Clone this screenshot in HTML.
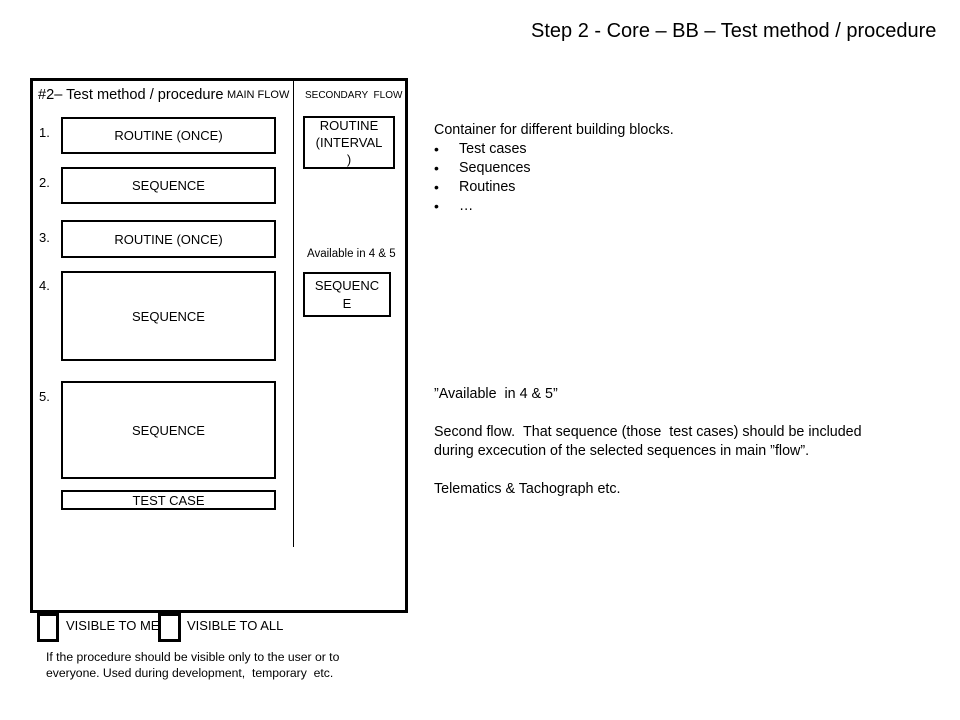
<!DOCTYPE html><html><head><style>
body{margin:0;width:960px;height:720px;background:#fff;position:relative;font-family:"Liberation Sans",sans-serif;color:#000;overflow:hidden}
.a{position:absolute}
.b{position:absolute;border:2px solid #000;box-sizing:border-box;display:flex;align-items:center;justify-content:center;text-align:center;font-size:13px}
.t{position:absolute;font-size:13px;white-space:nowrap}
</style></head><body>
<div class="t" style="left:531px;top:20px;font-size:20px">Step 2 - Core – BB – Test method / procedure</div>
<div class="a" style="left:30px;top:78px;width:378px;height:535px;border:3px solid #000;box-sizing:border-box"></div>
<div class="a" style="left:293px;top:80px;width:1px;height:467px;background:#000"></div>
<div class="t" style="left:38px;top:87px;font-size:14.6px">#2– Test method / procedure</div>
<div class="t" style="left:227px;top:89px;font-size:11px">MAIN FLOW</div>
<div class="t" style="left:305px;top:90px;font-size:10px">SECONDARY &nbsp;FLOW</div>
<div class="t" style="left:39px;top:125px">1.</div>
<div class="t" style="left:39px;top:175px">2.</div>
<div class="t" style="left:39px;top:230px">3.</div>
<div class="t" style="left:39px;top:278px">4.</div>
<div class="t" style="left:39px;top:389px">5.</div>
<div class="b" style="left:61px;top:117px;width:215px;height:37px">ROUTINE (ONCE)</div>
<div class="b" style="left:61px;top:167px;width:215px;height:37px">SEQUENCE</div>
<div class="b" style="left:61px;top:220px;width:215px;height:38px">ROUTINE (ONCE)</div>
<div class="b" style="left:61px;top:271px;width:215px;height:90px">SEQUENCE</div>
<div class="b" style="left:61px;top:381px;width:215px;height:98px">SEQUENCE</div>
<div class="b" style="left:61px;top:490px;width:215px;height:20px">TEST CASE</div>
<div class="b" style="left:303px;top:116px;width:92px;height:53px;overflow:hidden;line-height:17px">ROUTINE<br>(INTERVAL<br>)</div>
<div class="t" style="left:307px;top:248px;font-size:11.5px">Available in 4 &amp; 5</div>
<div class="b" style="left:303px;top:272px;width:88px;height:45px;line-height:18px">SEQUENC<br>E</div>
<div class="a" style="left:37px;top:613px;width:22px;height:29px;border:3px solid #000;box-sizing:border-box"></div>
<div class="a" style="left:158px;top:613px;width:23px;height:29px;border:3px solid #000;box-sizing:border-box"></div>
<div class="t" style="left:66px;top:618px">VISIBLE TO ME</div>
<div class="t" style="left:187px;top:618px">VISIBLE TO ALL</div>
<div class="t" style="left:46px;top:649px;font-size:12.2px;line-height:16px">If the procedure should be visible only to the user or to<br>everyone. Used during development, &nbsp;temporary &nbsp;etc.</div>
<div class="t" style="left:434px;top:121px;line-height:19px;font-size:14.3px">Container for different building blocks.</div>
<div class="t" style="left:434px;top:140px;line-height:19px;font-size:14px">•<br>•<br>•<br>•</div>
<div class="t" style="left:459px;top:140px;line-height:19px;font-size:14.3px">Test cases<br>Sequences<br>Routines<br>…</div>
<div class="t" style="left:434px;top:385px;line-height:19px;font-size:14.3px">”Available &nbsp;in 4 &amp; 5”<br><br>Second flow. &nbsp;That sequence (those &nbsp;test cases) should be included<br>during excecution of the selected sequences in main ”flow”.<br><br>Telematics &amp; Tachograph etc.</div>
</body></html>
